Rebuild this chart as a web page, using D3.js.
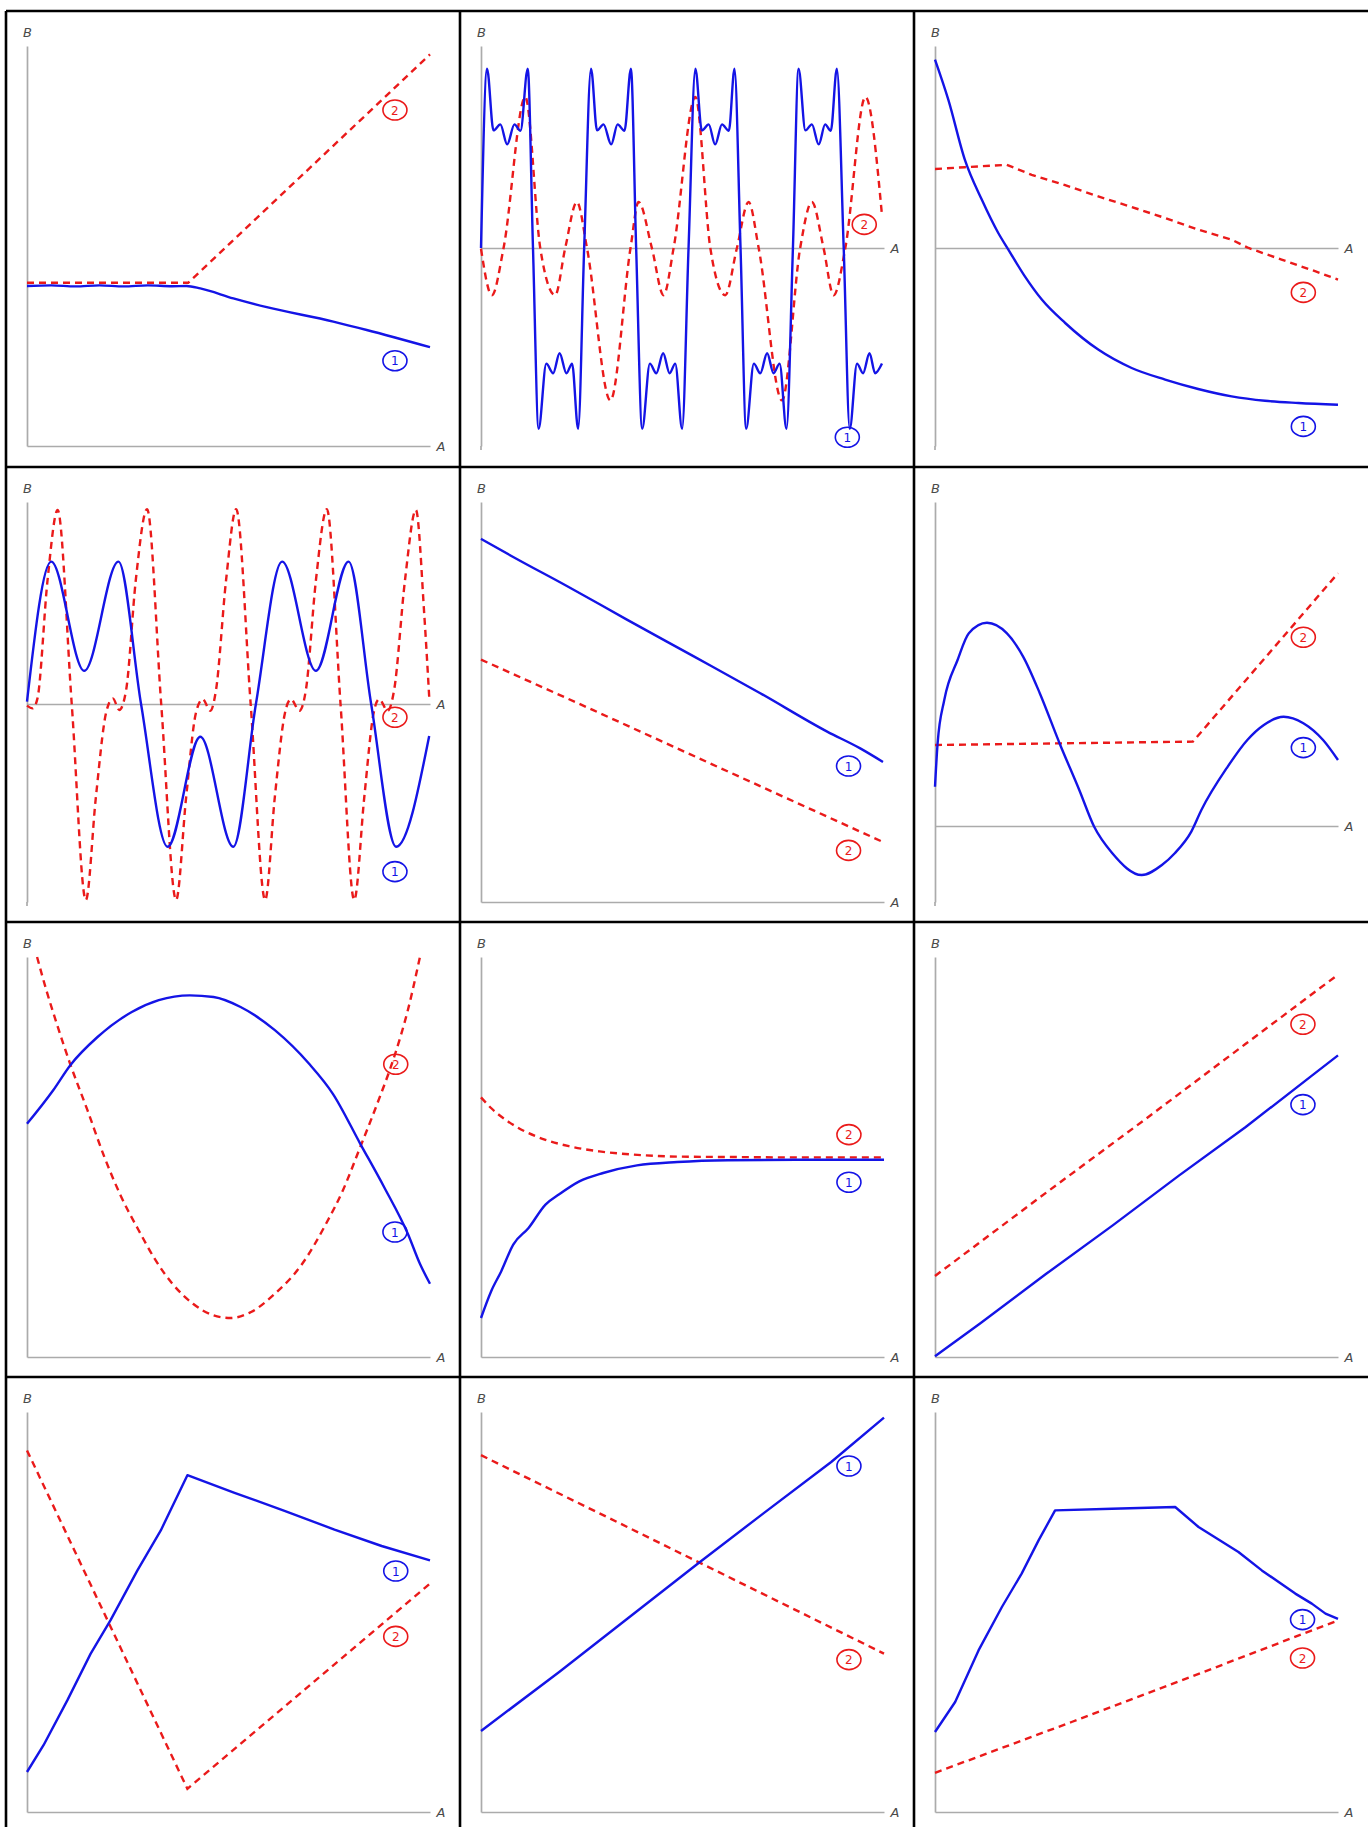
<!DOCTYPE html>
<html><head><meta charset="utf-8">
<script src="https://cdn.jsdelivr.net/npm/d3@7"></script>
<style>body{margin:0;background:#fff}svg{display:block}</style>
</head><body>
<svg id="chart" width="1368" height="1827"></svg>
<script>
// ---------- DATA (x: 0..100 along A, y: value of B) ----------
const axisNames = ["A", "B"];
const seriesNames = ["1", "2"];

// Panel 1
const p1Blue = [[0,40],[6,40.15],[12,39.9],[18,40.15],[24,39.9],[30,40.15],[36,39.95],[39.6,40],[43,39.4],[51.2,36.9],[59.5,34.7],[76,31.1],[84.3,29],[100,24.7]];
const p1Red = [[0,40.8],[40,40.8],[100,97.9]];
const p1Labels = [[91.3,21.3],[91.3,84]];
// Panel 2
const p2Blue = [[0,0],[1.5,44.8],[3.1,29.4],[4.8,30.9],[6.5,25.9],[8.3,30.9],[9.8,29.3],[11.6,44.8],[12.9,0],[14.3,-45.2],[16.2,-28.9],[17.9,-31.3],[19.5,-26.3],[21.2,-31.3],[22.6,-28.9],[24.1,-45.2],[25.6,0],[27.3,44.8],[28.8,29.4],[30.4,30.9],[32.3,25.9],[33.9,30.9],[35.6,29.3],[37.2,44.8],[38.5,0],[40.0,-45.2],[41.9,-28.9],[43.5,-31.3],[45.2,-26.3],[46.8,-31.3],[48.2,-28.9],[49.9,-45.2],[51.5,0],[53.2,44.8],[54.8,29.4],[56.5,30.9],[58.1,25.9],[59.8,30.9],[61.5,29.3],[62.9,44.8],[64.4,0],[65.8,-45.2],[67.7,-28.9],[69.3,-31.3],[71.0,-26.3],[72.6,-31.3],[74.1,-28.9],[75.8,-45.2],[77.4,0],[78.8,44.8],[80.5,29.4],[82.1,30.9],[83.8,25.9],[85.4,30.9],[86.8,29.3],[88.3,44.8],[90.0,0],[91.5,-45.2],[93.3,-28.9],[94.8,-31.3],[96.4,-26.3],[97.8,-31.3],[99.5,-28.9]];
const p2Red = [[0,-0.2],[2.7,-11.8],[5.6,0],[11.0,37.75],[14.7,0],[18.4,-11.8],[20.9,0],[23.8,11.5],[26.3,0],[32.1,-38.1],[37.1,0],[39.1,11.5],[42.4,0],[45.3,-11.8],[47.8,0],[53.2,37.75],[56.9,0],[60.6,-11.8],[63.5,0],[66.4,11.5],[68.9,0],[74.7,-38.1],[79.2,0],[82.1,11.5],[85.0,0],[87.5,-11.8],[90.4,0],[95.4,37.75],[99.5,8.2]];
const p2Labels = [[90.9,-47.3],[95.1,5.9]];
// Panel 3
const p3Blue = [[0,47.1],[3.3,37.1],[7.4,22.1],[11.6,12.1],[15.7,3.75],[18.2,-0.4],[22.3,-7.1],[26.5,-12.9],[32.3,-18.75],[40.5,-25.4],[48.8,-30],[57.1,-32.9],[65.3,-35.25],[73.6,-37.1],[81.9,-38.2],[90.2,-38.75],[100,-39.2]];
const p3Red = [[0,19.75],[7.4,20.2],[17.8,20.8],[24,18.3],[32.3,15.7],[40.5,12.9],[48.8,10.25],[57.1,7.5],[65.3,4.6],[73.6,2.1],[77.8,0],[86,-2.9],[94.3,-5.8],[100,-7.9]];
const p3Labels = [[91.4,-44.6],[91.4,-11.1]];
// Panel 4
const p4Blue = [[0,0.6],[6.0,35.6],[14.2,8.3],[22.7,35.6],[28.3,0],[34.9,-35.7],[43.0,-8.2],[51.2,-35.7],[56.8,0],[63.3,35.6],[71.7,8.3],[79.8,35.6],[85.4,0],[91.6,-35.7],[99.8,-8]];
const p4Red = [[0,-0.4],[1.4,-1.1],[2.6,1.4],[5.1,31],[7.6,48.5],[11.1,0],[14.6,-49],[17.1,-23.2],[19.6,-2.3],[21.3,1.4],[22.9,-1.5],[24.6,3.5],[27.0,31],[29.8,48.7],[33.3,0],[37.0,-49],[39.5,-23.2],[41.9,-2.3],[43.6,1.2],[45.5,-1.7],[46.9,3.5],[49.4,31],[51.9,48.7],[55.5,0],[59.1,-49],[61.5,-23.2],[64.0,-2.3],[65.5,1.2],[67.6,-1.7],[69.2,3.5],[71.7,31],[74.4,48.7],[77.8,0],[81.2,-49],[83.7,-23.2],[86.0,-2.3],[87.4,1.2],[89.5,-1.7],[91.1,3.5],[93.8,31],[96.5,48.5],[98.6,22],[99.8,1.8]];
const p4Labels = [[91.3,-41.9],[91.3,-3.3]];
// Panel 5
const p5Blue = [[0,90.8],[8.1,86.2],[21.3,79.0],[36.2,70.6],[52.8,61.4],[69.3,52.2],[85.9,42.6],[94.1,38.4],[99.75,35]];
const p5Red = [[0,60.6],[28,47.9],[61,32.75],[99.75,15]];
const p5Labels = [[91.2,34],[91.2,12.9]];
// Panel 6
const p6Blue = [[0,9.8],[0.65,20.7],[2.3,31.5],[5.6,41.5],[8.4,48.2],[12.9,50.8],[17.8,48.2],[21.9,42.3],[26,33.2],[30.9,20.7],[35.8,9],[39.5,-0.2],[44,-6.8],[51.3,-12.25],[56.3,-9.75],[59.5,-6.8],[63.6,-1.4],[66.1,4],[72.6,14.8],[77.5,21.5],[81.6,25.25],[86.5,27.3],[91.4,25.7],[96.3,21.5],[100,16.5]];
const p6Red = [[0,20.25],[64,21.1],[100,63.2]];
const p6Labels = [[91.4,19.6],[91.4,47.2]];
// Panel 7
const p7Blue = [[0,58.3],[6.5,66.7],[10.7,72.9],[17.5,80],[26,86.25],[32.7,89.2],[40.4,90.4],[46.3,90],[53,87.5],[61.5,81.7],[70,73.3],[75.9,65.8],[82.7,53.3],[88.6,42.5],[94.5,30.8],[97.5,23.3],[100,18.3]];
const p7Red = [[2.5,100],[4.8,91.7],[7.4,83.3],[10.7,73.3],[15,61.7],[19.2,50],[23.4,40],[27.7,31.7],[31.9,24.2],[36.1,18.3],[41.2,13.3],[46.3,10.4],[50.5,9.75],[55.6,11.25],[61.5,15.8],[68.3,23.3],[74.2,33.3],[78.4,41.7],[82.7,52.5],[86.9,63.3],[91.1,75],[94.5,86.7],[97.5,100]];
const p7Labels = [[91.3,31.25],[91.5,73.2]];
// Panel 8
const p8Blue = [[0,9.75],[2.5,16.4],[5,21.4],[8,28.1],[11.8,32.25],[16,38.1],[19.3,40.6],[24.4,43.9],[30.3,46],[38.7,47.9],[48.7,48.75],[61.3,49.2],[78.2,49.3],[100,49.3]];
const p8Red = [[0,64.9],[2.5,62.25],[6.7,58.9],[10.9,56.4],[16,54.3],[21.8,52.7],[29.4,51.4],[37.8,50.6],[48.7,50.1],[61.3,50],[78.2,49.9],[100,49.9]];
const p8Labels = [[91.3,43.7],[91.3,55.6]];
// Panel 9
const p9Blue = [[0,0.2],[11.1,8.3],[27.6,20.8],[44.1,32.9],[60.6,45.4],[77.1,57.5],[93.6,70.4],[100,75.4]];
const p9Red = [[0,20.25],[27.6,41.1],[52.4,59.6],[77.1,78.3],[99.75,95.4]];
const p9Labels = [[91.3,63.1],[91.3,83.2]];
// Panel 10
const p10Blue = [[0,10],[4.1,16.7],[10,27.9],[15.8,39.6],[20.7,47.9],[27.4,60.4],[33.2,70.4],[39.8,84.2],[51.5,79.8],[63.9,75.3],[76.3,70.6],[88,66.5],[100,62.9]];
const p10Red = [[0,90.4],[39.8,5.8],[100,57.1]];
const p10Labels = [[91.5,60.25],[91.5,43.9]];
// Panel 11
const p11Blue = [[0,20.25],[19.4,35],[36.3,48.3],[54,62.25],[70,74.6],[86.9,87.5],[100,98.6]];
const p11Red = [[0,89.2],[36.3,71.25],[100,39.6]];
const p11Labels = [[91.3,86.5],[91.3,38.1]];
// Panel 12
const p12Blue = [[0,20],[5,27.5],[10.8,40.4],[16.6,51.25],[21.5,59.6],[25.7,67.9],[29.8,75.4],[43.9,75.8],[59.6,76.25],[65.4,71.25],[75.3,65],[81.1,60.4],[89.4,54.6],[93.5,52.1],[96.9,49.6],[100,48.3]];
const p12Red = [[0,9.8],[33.9,22.5],[68.7,35.8],[100,47.9]];
const p12Labels = [[91.2,48.1],[91.2,38.5]];

// y-ranges of B shown in each panel
const yBottom = [0, 100];
const yMiddle = [-49.5, 50.5];
const yLow = [-19, 81];

// ---------- LAYOUT / STYLE ----------
const W = 1368, H = 1827;
const colX = [6, 460, 914], rowY = [11, 467, 922, 1377];
const padL = 21, padR = 424, padT = 35, padB = 435;
const BLUE = "#1414e6", RED = "#ea1a1a", AXIS = "#ababab", TXT = "#4a4a4a";
const mono = d3.curveMonotoneX, lin = d3.curveLinear;

const panels = [
  {blue:p1Blue, red:p1Red, yd:yBottom, lab:p1Labels, cb:mono, cr:lin},
  {blue:p2Blue, red:p2Red, yd:yMiddle, lab:p2Labels, cb:mono, cr:mono},
  {blue:p3Blue, red:p3Red, yd:yMiddle, lab:p3Labels, cb:mono, cr:lin},
  {blue:p4Blue, red:p4Red, yd:yMiddle, lab:p4Labels, cb:mono, cr:mono},
  {blue:p5Blue, red:p5Red, yd:yBottom, lab:p5Labels, cb:mono, cr:lin},
  {blue:p6Blue, red:p6Red, yd:yLow, lab:p6Labels, cb:mono, cr:lin},
  {blue:p7Blue, red:p7Red, yd:yBottom, lab:p7Labels, cb:mono, cr:mono},
  {blue:p8Blue, red:p8Red, yd:yBottom, lab:p8Labels, cb:mono, cr:mono},
  {blue:p9Blue, red:p9Red, yd:yBottom, lab:p9Labels, cb:lin, cr:lin},
  {blue:p10Blue, red:p10Red, yd:yBottom, lab:p10Labels, cb:lin, cr:lin},
  {blue:p11Blue, red:p11Red, yd:yBottom, lab:p11Labels, cb:lin, cr:lin},
  {blue:p12Blue, red:p12Red, yd:yBottom, lab:p12Labels, cb:lin, cr:lin}
];

const svg = d3.select("#chart");
svg.append("rect").attr("width", W).attr("height", H).attr("fill", "#fff");

panels.forEach((p, i) => {
  const cx = colX[i % 3], cy = rowY[Math.floor(i / 3)];
  const g = svg.append("g").attr("transform", `translate(${cx},${cy})`);
  const x = d3.scaleLinear().domain([0, 100]).range([padL, padR]);
  const y = d3.scaleLinear().domain(p.yd).range([padB, padT]);
  const mid = p.yd[0] < 0;

  // axes (no ticks)
  g.append("g").attr("transform", `translate(${x(0)},0)`)
    .call(d3.axisLeft(y).tickValues([]).tickSizeOuter(0));
  g.append("g").attr("transform", `translate(0,${y(0)})`)
    .call(d3.axisBottom(x).tickValues([]).tickSizeOuter(0));
  g.selectAll(".domain").attr("stroke", AXIS).attr("stroke-width", 1.7);
  if (mid) {
    g.append("line").attr("x1", x(0)).attr("x2", x(0))
      .attr("y1", y(p.yd[0])).attr("y2", y(p.yd[0]) + 4)
      .attr("stroke", AXIS).attr("stroke-width", 1.7);
  }
  g.append("text").attr("x", x(100) + 11).attr("y", y(0) + 5)
    .attr("text-anchor", "middle").attr("font-family", "DejaVu Sans")
    .attr("font-style", "italic").attr("font-size", 13).attr("fill", TXT).text(axisNames[0]);
  g.append("text").attr("x", x(0) + 0.5).attr("y", y(p.yd[1]) - 9)
    .attr("text-anchor", "middle").attr("font-family", "DejaVu Sans")
    .attr("font-style", "italic").attr("font-size", 13).attr("fill", TXT).text(axisNames[1]);

  const line = c => d3.line().x(d => x(d[0])).y(d => y(d[1])).curve(c);
  g.append("path").attr("d", line(p.cr)(p.red)).attr("fill", "none")
    .attr("stroke", RED).attr("stroke-width", 2.4).attr("stroke-dasharray", "7,5");
  g.append("path").attr("d", line(p.cb)(p.blue)).attr("fill", "none")
    .attr("stroke", BLUE).attr("stroke-width", 2.4).attr("stroke-linejoin", "round");

  // circled series labels
  p.lab.forEach((pos, k) => {
    const col = k === 0 ? BLUE : RED;
    g.append("ellipse").attr("cx", x(pos[0])).attr("cy", y(pos[1]))
      .attr("rx", 12).attr("ry", 10).attr("fill", "none")
      .attr("stroke", col).attr("stroke-width", 1.6);
    g.append("text").attr("x", x(pos[0])).attr("y", y(pos[1]) + 4.5)
      .attr("text-anchor", "middle").attr("font-family", "DejaVu Sans")
      .attr("font-size", 12).attr("fill", col).text(seriesNames[k]);
  });
});

// table borders
const border = svg.append("g").attr("stroke", "#000").attr("stroke-width", 2.6);
colX.forEach(cx => border.append("line").attr("x1", cx).attr("x2", cx).attr("y1", rowY[0]).attr("y2", H));
rowY.forEach(ry => border.append("line").attr("x1", colX[0]).attr("x2", W).attr("y1", ry).attr("y2", ry));
</script>
</body></html>
